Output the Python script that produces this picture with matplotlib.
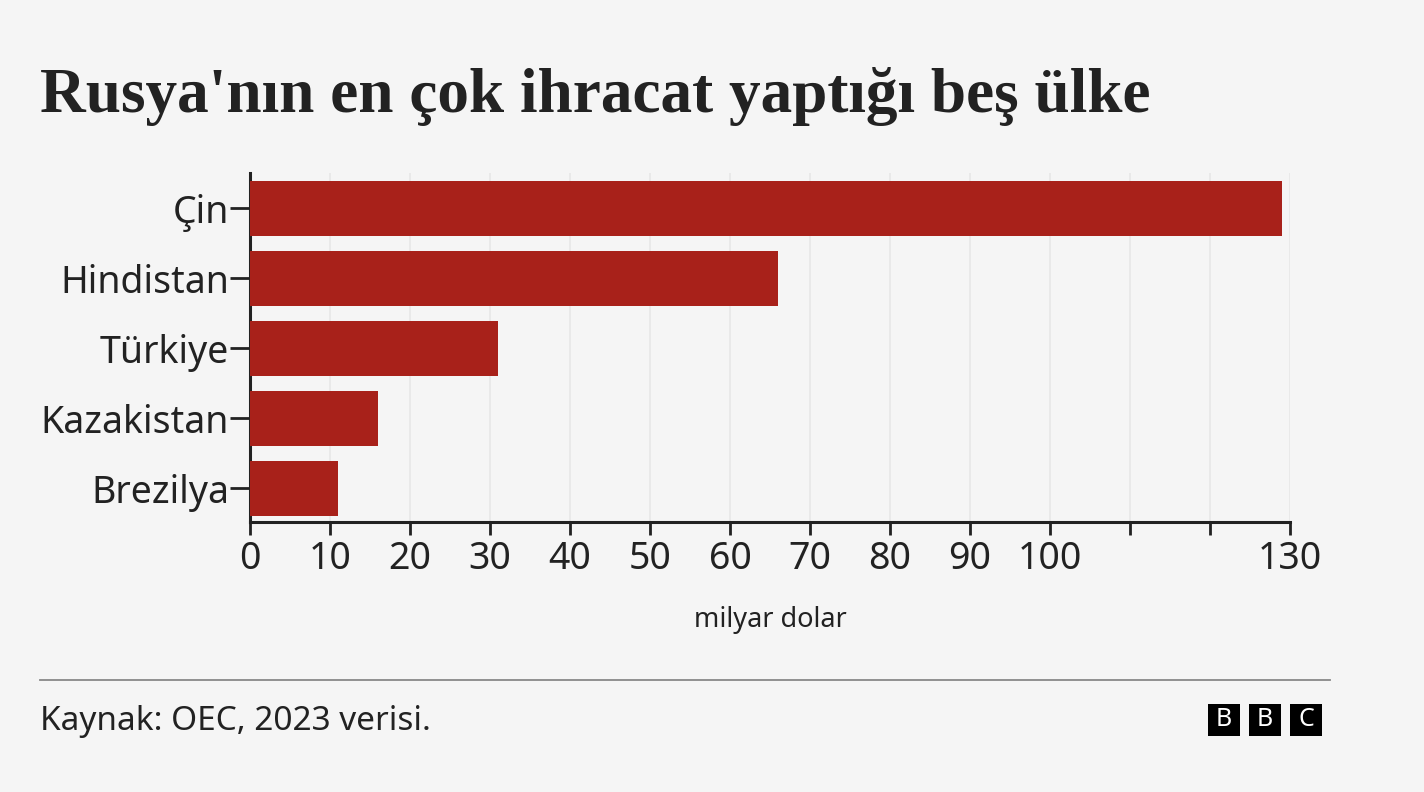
import matplotlib
matplotlib.use("Agg")
import matplotlib.pyplot as plt
from matplotlib.patches import Rectangle

countries = ["Çin", "Hindistan", "Türkiye", "Kazakistan", "Brezilya"]
values = [129, 66, 31, 16, 11]
xticks = [0, 10, 20, 30, 40, 50, 60, 70, 80, 90, 100, 110, 120, 130]
xticklabels = ["0", "10", "20", "30", "40", "50", "60", "70", "80", "90", "100", "", "", "130"]

title = "Rusya'nın en çok ihracat yaptığı beş ülke"
xlabel = "milyar dolar"
source = "Kaynak: OEC, 2023 verisi."

BG = "#f5f5f5"
BAR = "#a8211a"
TXT = "#222222"
W, H = 1424, 792

plt.rcParams["font.family"] = ["Noto Sans", "DejaVu Sans"]

fig = plt.figure(figsize=(W / 100, H / 100), dpi=100, facecolor=BG)
ax = fig.add_axes([250 / W, 1 - 522 / H, 1040 / W, 349 / H], facecolor=BG)

ypos = list(range(len(countries)))
ax.barh(ypos, values, height=0.786, color=BAR, zorder=3)
ax.set_xlim(0, 130)
ax.set_ylim(4.479, -0.507)

ax.set_xticks(xticks)
ax.set_xticklabels(xticklabels, fontsize=27, color=TXT)
ax.set_yticks(ypos)
ax.set_yticklabels(countries, fontsize=27, color=TXT)
ax.tick_params(axis="x", length=9, width=2, color=TXT, pad=4)
ax.tick_params(axis="y", length=14.5, width=2, color=TXT, pad=0.5)
ax.grid(axis="x", color="#e8e8e8", linewidth=1.3, zorder=0)
ax.grid(axis="y", visible=False)
for s in ["top", "right"]:
    ax.spines[s].set_visible(False)
for s in ["left", "bottom"]:
    ax.spines[s].set_linewidth(2.2)
    ax.spines[s].set_color(TXT)

fig.text(770 / W, 1 - 620 / H, xlabel, ha="center", va="center", fontsize=19.5, color=TXT)

fig.text(40 / W, 1 - 97 / H, title, ha="left", va="center", fontsize=45.5,
         fontweight="bold", family=["Liberation Serif", "DejaVu Serif"], color=TXT)

fig.add_artist(plt.Line2D([40 / W, 1330 / W], [1 - 680 / H, 1 - 680 / H],
                          color="#888888", linewidth=1.3, transform=fig.transFigure))
fig.text(40 / W, 1 - 722 / H, source, ha="left", va="center", fontsize=24, color=TXT)

for i, letter in enumerate(["B", "B", "C"]):
    x0 = 1208 + i * 41
    fig.add_artist(Rectangle((x0 / W, 1 - 736 / H), 32 / W, 32 / H,
                             transform=fig.transFigure, facecolor="black", edgecolor="none"))
    fig.text((x0 + 16) / W, 1 - 720 / H, letter, ha="center", va="center",
             fontsize=18, fontweight="bold", color="white")

fig.savefig("out.png", dpi=100, facecolor=BG)
